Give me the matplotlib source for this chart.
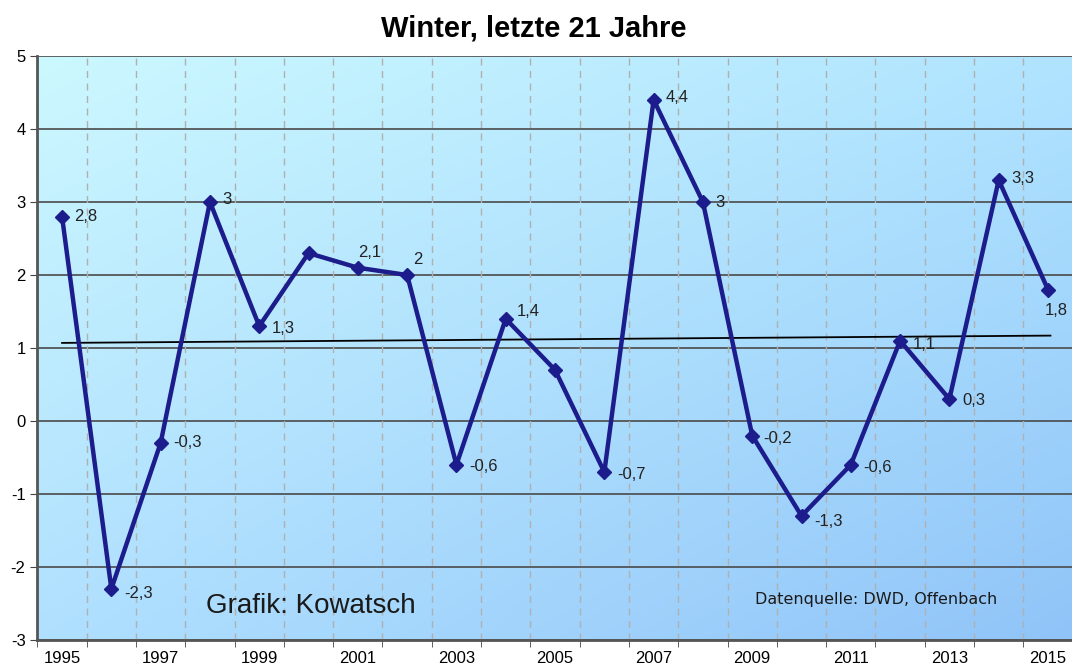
import numpy as np
import matplotlib.pyplot as plt
from matplotlib.colors import to_rgb

plt.rcParams['font.family'] = ['Liberation Sans', 'DejaVu Sans']
plt.rcParams['axes.unicode_minus'] = False

years = list(range(1995, 2016))
temps = [2.8, -2.3, -0.3, 3.0, 1.3, 2.3, 2.1, 2.0, -0.6, 1.4, 0.7,
         -0.7, 4.4, 3.0, -0.2, -1.3, -0.6, 1.1, 0.3, 3.3, 1.8]
# which points get a value label and where (dx, dy in points)
show_label = [True, True, True, True, True, False, True, True, True, True, False,
              True, True, True, True, True, True, True, True, True, True]
label_offsets = [(9, 0), (9, -3), (9, 0), (9, 2), (9, -2), (0, 0), (0, 11), (4, 11),
                 (9, -1), (8, 5), (0, 0), (9, -2), (9, 2), (9, 0), (8, -2), (9, -4),
                 (9, -2), (9, -3), (9, -1), (9, 1), (-2, -15)]
trend_start, trend_end = 1.07, 1.17

x = np.arange(len(years))

fig = plt.figure(figsize=(10.72, 6.71), dpi=100)
ax = fig.add_axes([0.0349, 0.0462, 0.9657, 0.8703])

# diagonal background gradient
tl, tr = np.array(to_rgb('#ccf8ff')), np.array(to_rgb('#b0e4ff'))
bl, br = np.array(to_rgb('#b0e0ff')), np.array(to_rgb('#90c4f8'))
u = np.linspace(0, 1, 200)[None, :, None]
v = np.linspace(0, 1, 200)[:, None, None]
grad = (1 - v) * ((1 - u) * tl + u * tr) + v * ((1 - u) * bl + u * br)
ax.imshow(grad, extent=[0, 1, 0, 1], transform=ax.transAxes, aspect='auto', zorder=0)

ax.set_xlim(-0.5, len(years) - 0.5)
ax.set_ylim(-3, 5)

# grid
for yv in range(-3, 6):
    ax.axhline(yv, color='#4a4a4a', lw=1.2, zorder=1)
for b in np.arange(0.5, len(years) - 0.5, 1):
    ax.axvline(b, color='#b0b0b0', lw=1.0, ls=(0, (5, 4)), zorder=1)

# trend line
ax.plot([x[0], x[-1] + 0.05], [trend_start, trend_end], color='black', lw=1.3, zorder=2)

ax.plot(x, temps, color='#1c1c8c', lw=3.2, marker='D', ms=7.5, zorder=3)

for xi, t, s, off in zip(x, temps, show_label, label_offsets):
    if s:
        txt = f"{t:g}".replace('.', ',')
        ax.annotate(txt, (xi, t), xytext=off, textcoords='offset points',
                    fontsize=12, color='#222222', va='center', ha='left', zorder=4)

ax.set_xticks(x[::2])
ax.set_xticklabels([str(y) for y in years[::2]], fontsize=12)
ax.set_xticks(np.arange(-0.5, len(years), 1), minor=True)
ax.tick_params(axis='x', which='major', length=0, pad=8)
ax.tick_params(axis='x', which='minor', length=5, color='#444444')
ax.set_yticks(range(-3, 6))
ax.tick_params(axis='y', labelsize=12, length=5, color='#444444')

for side in ['top', 'right']:
    ax.spines[side].set_visible(False)
ax.spines['left'].set_color('#555555')
ax.spines['left'].set_linewidth(2)
ax.spines['bottom'].set_color('#555555')
ax.spines['bottom'].set_linewidth(2)

ax.text(0.163, 0.047, 'Grafik: Kowatsch', transform=ax.transAxes, fontsize=20,
        color='#1a1a1a', zorder=5)
ax.text(0.693, 0.062, 'Datenquelle: DWD, Offenbach', transform=ax.transAxes, fontsize=11.5,
        family=['Liberation Sans Narrow', 'DejaVu Sans'], color='#1a1a1a', zorder=5)

fig.suptitle('Winter, letzte 21 Jahre', fontsize=21, fontweight='bold', y=0.978, x=0.498)

fig.savefig('out.png', dpi=100)
